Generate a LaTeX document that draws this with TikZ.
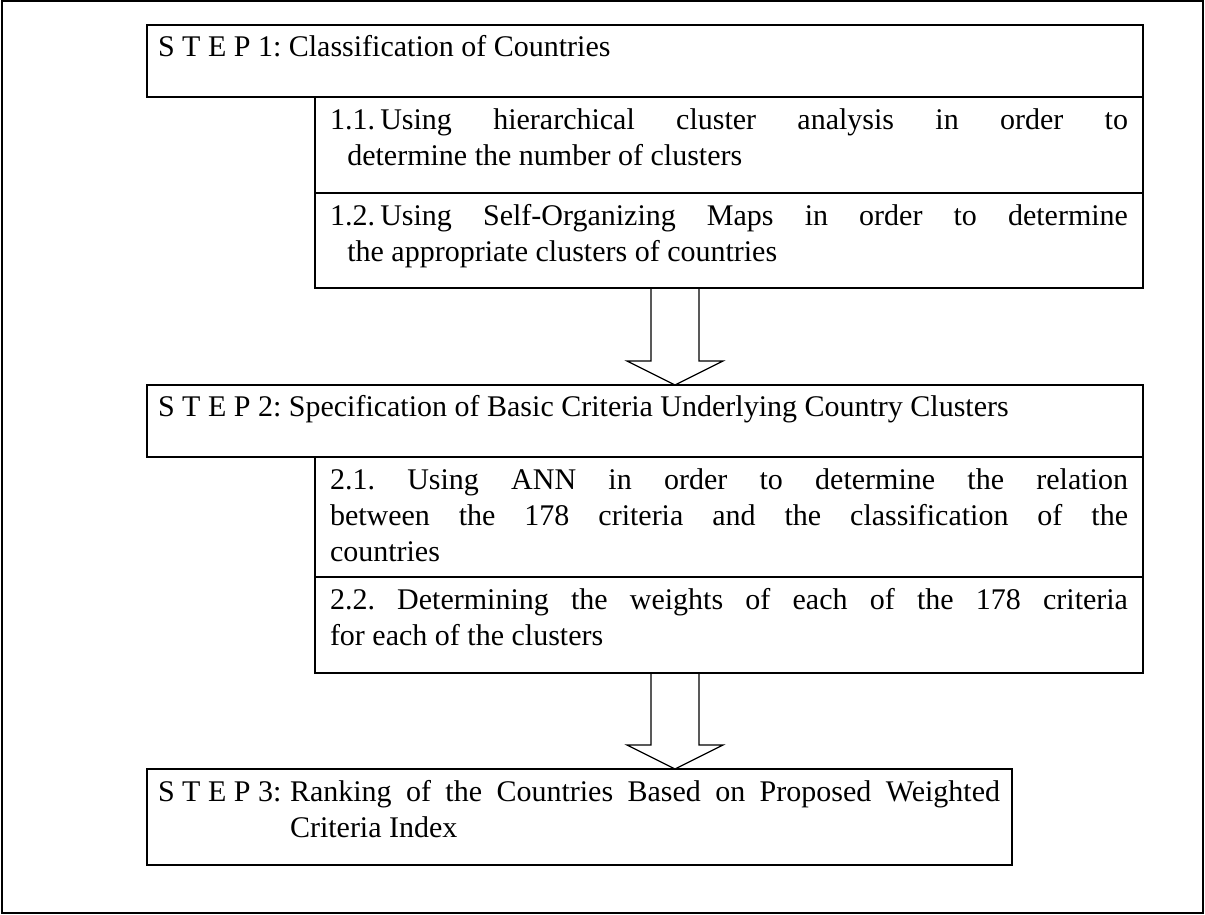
\documentclass[tikz,border=0pt]{standalone}
\usepackage{fontspec}
\setmainfont{Liberation Serif}
\usetikzlibrary{calc}
% justified paragraph of a given width, first baseline on top
\newcommand\celltext[2]{\parbox[t]{#1}{#2}}
\begin{document}
% 1 unit = 1 px of a 1205 x 914 canvas, y growing downwards
\begin{tikzpicture}[x=0.75pt, y=-0.75pt,
  every node/.style={inner sep=0pt, outer sep=0pt, font=\fontsize{22.5pt}{27pt}\selectfont\frenchspacing},
  cell/.style={draw, line width=1.1pt, rectangle, anchor=north west},
  head/.style={anchor=base west},
  hollow/.style={draw, line width=0.9pt, line join=miter}]
\useasboundingbox (0,0) rectangle (1205,914);

% outer frame
\node[draw, line width=1.2pt, minimum width=900.75pt, minimum height=684pt, anchor=north west] (frame) at (2,1) {};

% step 1 and its sub-tasks
\node[cell, minimum width=747pt, minimum height=54pt] (s1) at (147,25) {};
\node[cell, minimum width=621pt, minimum height=72pt] (b11) at (315,97) {};
\node[cell, minimum width=621pt, minimum height=71.25pt] (b12) at (315,193) {};

% step 2 and its sub-tasks
\node[cell, minimum width=747pt, minimum height=54pt] (s2) at (147,385) {};
\node[cell, minimum width=621pt, minimum height=90pt] (b21) at (315,457) {};
\node[cell, minimum width=621pt, minimum height=72pt] (b22) at (315,577) {};

% step 3
\node[cell, minimum width=648.75pt, minimum height=72pt] (s3) at (147,769) {};

% texts
\node[head] (t1) at ($(s1.north west)+(11,31)$) {S T E P 1: Classification of Countries};
\node[head] (t11) at ($(b11.north west)+(15,32)$) {\celltext{598.5pt}{\leftskip=13pt\hspace*{-13pt}1.1.\hspace{4pt}Using hierarchical cluster analysis in order to\linebreak determine the number of clusters}};
\node[head] (t12) at ($(b12.north west)+(15,32)$) {\celltext{598.5pt}{\leftskip=13pt\hspace*{-13pt}1.2.\hspace{4pt}Using Self-Organizing Maps in order to determine\linebreak the appropriate clusters of countries}};
\node[head] (t2) at ($(s2.north west)+(11,31)$) {S T E P 2: Specification of Basic Criteria Underlying Country Clusters};
\node[head] (t21) at ($(b21.north west)+(15,32)$) {\celltext{598.5pt}{2.1. Using ANN in order to determine the relation\linebreak between the 178 criteria and the classification of the\linebreak countries}};
\node[head] (t22) at ($(b22.north west)+(15,32)$) {\celltext{598.5pt}{2.2. Determining the weights of each of the 178 criteria\linebreak for each of the clusters}};
\node[head] (t3) at ($(s3.north west)+(11,32)$) {\celltext{631.5pt}{\leftskip=99pt\hspace*{-99pt}\makebox[99pt][l]{S T E P 3:}Ranking of the Countries Based on Proposed Weighted\linebreak Criteria Index}};

% hollow block arrows between the steps
\coordinate (ax) at (675,0);
\coordinate (tip1) at (ax |- s2.north);
\coordinate (tip2) at (ax |- s3.north);
\draw[hollow] ($(ax |- b12.south)+(-24,0)$) -- ($(tip1)+(-24,-24)$) -- ($(tip1)+(-48,-24)$)
  -- (tip1) -- ($(tip1)+(48,-24)$) -- ($(tip1)+(24,-24)$) -- ($(ax |- b12.south)+(24,0)$);
\draw[hollow] ($(ax |- b22.south)+(-24,0)$) -- ($(tip2)+(-24,-24)$) -- ($(tip2)+(-48,-24)$)
  -- (tip2) -- ($(tip2)+(48,-24)$) -- ($(tip2)+(24,-24)$) -- ($(ax |- b22.south)+(24,0)$);
\end{tikzpicture}
\end{document}
